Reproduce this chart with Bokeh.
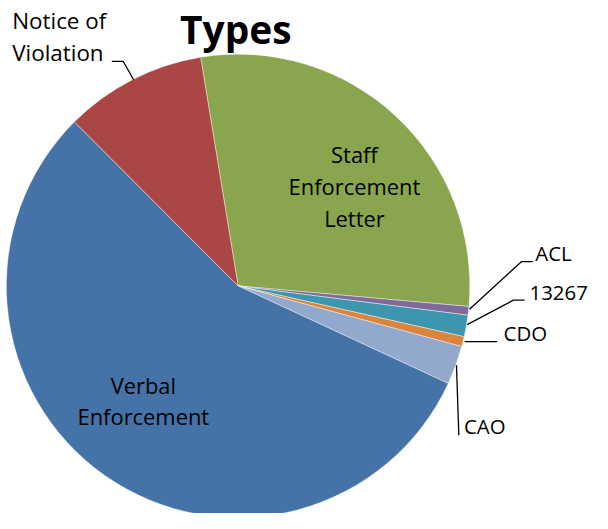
import numpy as np
from bokeh.plotting import figure
from bokeh.models import Range1d, ColumnDataSource
from bokeh.core.properties import value
from bokeh.embed import file_html
from bokeh.resources import INLINE

# ---- data (% of total) ----
categories = ["Staff Enforcement Letter", "ACL", "13267", "CDO", "CAO",
              "Verbal Enforcement", "Notice of Violation"]
shares = [29.0, 0.6, 1.5, 0.7, 2.7, 55.6, 9.9]
colors = ["#89A54E", "#80699B", "#3D96AE", "#DB843D", "#92A8CD",
          "#4572A7", "#AA4643"]
chart_title = "Types"

# ---- layout (reference picture pixel coordinates, mapped onto the figure) ----
W, H = 592, 513
IMG_W, IMG_H = 608, 529
SC = W / IMG_W
SCY = H / IMG_H
BASE_FIX = 0.4  # baseline correction, in em


def Y(img_y):
    return IMG_H - img_y


def fs(px):
    return px * SC


CX, CY, R = 244, 294.3, 238
START_DEG = 99.3  # first slice starts here (math orientation), runs clockwise
FONT = "Open Sans"

p = figure(width=W, height=H, x_range=Range1d(0, IMG_W),
           y_range=Range1d(0, IMG_H),
           output_backend="svg", toolbar_location=None, min_border=0)
p.axis.visible = False
p.grid.visible = False
p.outline_line_color = None
p.background_fill_color = "white"
p.border_fill_color = "white"

total = float(sum(shares))
ang = np.array(shares) / total * 2 * np.pi
cum = np.concatenate([[0.0], np.cumsum(ang)])
s0 = np.deg2rad(START_DEG)
src = ColumnDataSource(dict(start=s0 - cum[1:], end=s0 - cum[:-1],
                            color=colors, cat=categories))
p.wedge(x=CX, y=Y(CY), radius=R, start_angle="start", end_angle="end",
        fill_color="color", line_color="white", line_width=0.6,
        line_alpha=0.7, source=src)


def put_text(xs, bases, lines, size_px, align, style="normal"):
    sp = fs(size_px)
    p.text(x=xs, y=[Y(b) + BASE_FIX * sp / SCY for b in bases], text=lines,
           text_font=value(FONT), text_font_size="%.1fpx" % sp,
           text_font_style=style, text_color="black",
           text_align=align, text_baseline="alphabetic")


# ---- labels ----
label_pos = {
    "Staff Enforcement Letter": ("center", 363.5, [168.3, 201.3, 234.0], ["Staff", "Enforcement", "Letter"]),
    "Verbal Enforcement": ("center", 146.7, [406.0, 438.0], ["Verbal", "Enforcement"]),
    "Notice of Violation": ("left", 12, [29.5, 62.7], ["Notice of", "Violation"]),
    "ACL": ("left", 549.3, [269.3], ["ACL"]),
    "13267": ("left", 543.3, [310.0], ["13267"]),
    "CDO": ("left", 516.7, [351.7], ["CDO"]),
    "CAO": ("left", 476.0, [447.3], ["CAO"]),
}
for cat in categories:
    align, lx, bases, lines = label_pos[cat]
    if cat in ("Staff Enforcement Letter", "Verbal Enforcement"):
        size = 22.5
    elif cat == "Notice of Violation":
        size = 23
    else:
        size = 21
    put_text([lx] * len(lines), bases, lines, size, align)

# leader lines
leaders_x = [[114.3, 126.0, 136.7], [546.7, 535.0, 481.7], [538.3, 526.7, 479.3],
             [510.0, 476.7], [468.3, 470.7]]
leaders_y = [[62.7, 62.7, 81.7], [269.3, 269.3, 318.3], [309.0, 309.0, 334.3],
             [351.7, 351.7], [376.0, 448.3]]
p.multi_line(xs=leaders_x, ys=[[Y(v) for v in ys] for ys in leaders_y],
             line_color="black", line_width=1.3)

# title
put_text([241.7], [45], [chart_title], 40, "center", style="bold")

open("out.html", "w").write(file_html(p, INLINE))
